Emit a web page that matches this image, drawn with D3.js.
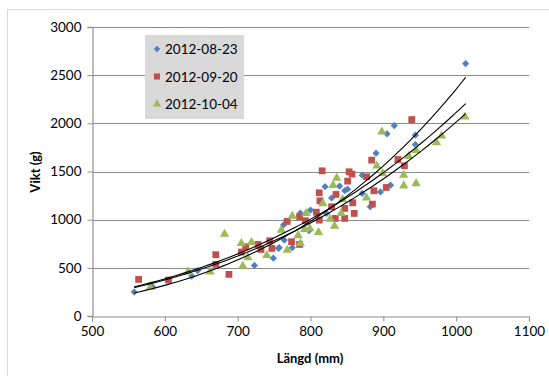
<!DOCTYPE html>
<html>
<head>
<meta charset="utf-8">
<script src="https://cdn.jsdelivr.net/npm/d3@7"></script>
<style>
  body { margin: 0; background: #fff; }
  text { font-family: Lato, "Open Sans", sans-serif; fill: #000; }
</style>
</head>
<body>
<div id="chart"></div>
<script>
// series names
var seriesNames = ['2012-08-23', '2012-09-20', '2012-10-04'];
var seriesColors = ['#4f81bd', '#c0504d', '#9bbb59'];

// 2012-08-23 (length mm, weight g)
var lenA = [558, 583, 637, 645, 723, 749, 756, 757, 763, 764, 775, 786, 798, 800, 820, 822, 829, 840, 847, 851, 871, 871, 882, 890, 896, 905, 910, 915, 944, 944, 1013];
var wtA  = [249, 304, 415, 470, 525, 600, 702, 709, 945, 788, 709, 1069, 886, 1100, 1342, 1065, 1225, 1349, 1301, 1317, 1462, 1272, 1135, 1690, 1288, 1891, 1358, 1977, 1877, 1780, 2620];

// 2012-09-20
var lenB = [564, 605, 670, 670, 688, 705, 711, 728, 732, 744, 747, 768, 774, 785, 785, 793, 808, 812, 812, 813, 816, 829, 834, 835, 847, 847, 851, 853, 857, 858, 860, 877, 884, 885, 887, 904, 920, 929, 939];
var wtB  = [380, 373, 636, 536, 432, 664, 719, 743, 691, 781, 702, 982, 771, 743, 1030, 989, 1078, 995, 1279, 1196, 1507, 1134, 1013, 1262, 1117, 1013, 1400, 1497, 1473, 1175, 1065, 1445, 1618, 1161, 1300, 1334, 1625, 1559, 2039];

// 2012-10-04
var lenC = [580, 632, 662, 682, 705, 707, 714, 719, 740, 760, 768, 775, 783, 786, 792, 794, 799, 811, 817, 827, 831, 833, 836, 842, 844, 877, 891, 898, 899, 928, 928, 935, 945, 945, 973, 980, 1012];
var wtC  = [297, 460, 460, 850, 754, 518, 608, 764, 629, 892, 684, 1037, 836, 754, 899, 1065, 909, 868, 1168, 1006, 1358, 933, 1431, 1065, 1210, 1227, 1559, 1912, 1479, 1462, 1352, 1659, 1721, 1376, 1801, 1870, 2067];

var xTicks = [500, 600, 700, 800, 900, 1000, 1100];
var yTicks = [0, 500, 1000, 1500, 2000, 2500, 3000];

var W = 549, H = 376;
var margin = { top: 27, right: 20, bottom: 60, left: 92 };
var plotW = 529 - margin.left;
var plotH = 316 - margin.top;

var svg = d3.select('#chart').append('svg')
  .attr('width', W)
  .attr('height', H);

// outer chart border
svg.append('rect')
  .attr('x', 7.5).attr('y', 9.5)
  .attr('width', W + 10).attr('height', H + 10)
  .attr('fill', 'none')
  .attr('stroke', '#d9d9d9');

var x = d3.scaleLinear().domain([500, 1100]).range([0, plotW]);
var y = d3.scaleLinear().domain([0, 3000]).range([plotH, 0]);

var chart = svg.append('g')
  .attr('transform', 'translate(' + margin.left + ',' + margin.top + ')');

// gridlines
chart.append('g')
  .selectAll('line')
  .data(yTicks.slice(1))
  .enter().append('line')
  .attr('x1', 0).attr('x2', plotW)
  .attr('y1', function (d) { return Math.round(y(d)) + 0.5; })
  .attr('y2', function (d) { return Math.round(y(d)) + 0.5; })
  .attr('stroke', '#8c8c8c');

var xAxis = chart.append('g')
  .attr('transform', 'translate(0,' + (plotH + 0.5) + ')')
  .call(d3.axisBottom(x).tickValues(xTicks).tickFormat(d3.format('d')).tickSize(5).tickPadding(5));

var yAxis = chart.append('g')
  .attr('transform', 'translate(0.5,0)')
  .call(d3.axisLeft(y).tickValues(yTicks).tickFormat(d3.format('d')).tickSize(5).tickPadding(6));

[xAxis, yAxis].forEach(function (ax) {
  ax.selectAll('path, line').attr('stroke', '#8c8c8c');
  ax.selectAll('text').style('font-size', '13.5px').attr('fill', '#000');
});
yAxis.select('.domain').attr('stroke', '#a6a6a6').attr('stroke-width', 1.5);

// axis titles
svg.append('text')
  .attr('x', 310).attr('y', 363)
  .attr('text-anchor', 'middle')
  .style('font-size', '13px').style('font-weight', 'bold')
  .text('Längd (mm)');

svg.append('text')
  .attr('transform', 'translate(40,172) rotate(-90)')
  .attr('text-anchor', 'middle')
  .style('font-size', '13px').style('font-weight', 'bold')
  .text('Vikt (g)');

var series = [
  { name: seriesNames[0], xs: lenA, ys: wtA, color: seriesColors[0], shape: d3.symbolSquare, size: 26, rot: 45 },
  { name: seriesNames[1], xs: lenB, ys: wtB, color: seriesColors[1], shape: d3.symbolSquare, size: 46, rot: 0 },
  { name: seriesNames[2], xs: lenC, ys: wtC, color: seriesColors[2], shape: d3.symbolTriangle, size: 38, rot: 0 }
];

// markers
series.forEach(function (s) {
  var pts = s.xs.map(function (v, i) { return [v, s.ys[i]]; });
  chart.append('g')
    .selectAll('path')
    .data(pts)
    .enter().append('path')
    .attr('d', d3.symbol().type(s.shape).size(s.size))
    .attr('transform', function (d) { return 'translate(' + x(d[0]) + ',' + y(d[1]) + ') rotate(' + s.rot + ')'; })
    .attr('fill', s.color);
});

// power trendlines (least squares on ln x, ln y, like Excel)
var allX = lenA.concat(lenB, lenC);
var xMin = d3.min(allX), xMax = d3.max(allX);
var line = d3.line()
  .x(function (d) { return x(d[0]); })
  .y(function (d) { return y(d[1]); });

series.forEach(function (s) {
  var lx = s.xs.map(Math.log), ly = s.ys.map(Math.log);
  var mx = d3.mean(lx), my = d3.mean(ly);
  var num = d3.sum(lx, function (v, i) { return (v - mx) * (ly[i] - my); });
  var den = d3.sum(lx, function (v) { return (v - mx) * (v - mx); });
  var b = num / den;
  var a = Math.exp(my - b * mx);
  var pts = d3.range(0, 61).map(function (i) {
    var xv = xMin + (xMax - xMin) * i / 60;
    return [xv, a * Math.pow(xv, b)];
  });
  chart.append('path')
    .datum(pts)
    .attr('d', line)
    .attr('fill', 'none')
    .attr('stroke', '#000')
    .attr('stroke-width', 1.1);
});

// legend
var legend = svg.append('g').attr('transform', 'translate(145,35)');
legend.append('rect')
  .attr('width', 99).attr('height', 84)
  .attr('fill', '#d9d9d9');
series.forEach(function (s, i) {
  var g = legend.append('g').attr('transform', 'translate(0,' + (14 + i * 27.5) + ')');
  g.append('path')
    .attr('d', d3.symbol().type(s.shape).size(s.size * 0.8))
    .attr('transform', 'translate(12,0) rotate(' + s.rot + ')')
    .attr('fill', s.color);
  g.append('text')
    .attr('x', 20).attr('y', 5)
    .style('font-size', '13.5px')
    .text(s.name);
});
</script>
</body>
</html>
